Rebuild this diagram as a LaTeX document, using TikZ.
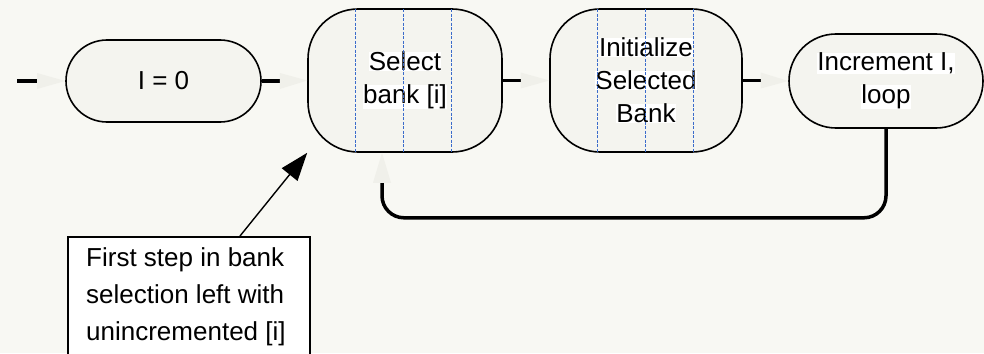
\documentclass[tikz,border=0pt]{standalone}
\usepackage{fontspec}
\setmainfont{Liberation Sans}
\usetikzlibrary{arrows.meta,calc}
\definecolor{paper}{HTML}{F8F8F3}
\definecolor{boxfill}{HTML}{F4F4EF}
\definecolor{ghost}{HTML}{F0F0EA}
\definecolor{gridblue}{HTML}{3A6BCB}
% white band behind each line of a box label
\newcommand\wb[1]{{\setlength\fboxsep{0pt}\colorbox{white}{#1}}}
\begin{document}
\begin{tikzpicture}[x=1pt,y=-1pt,
  every node/.style={font=\fontsize{26}{33}\selectfont},
  flowbox/.style={draw=black, line width=1.6pt, fill=boxfill, align=center, inner sep=0pt},
  stub/.style={line width=3.5pt},
  loopline/.style={line width=3.5pt, rounded corners=22pt},
  lane/.style={gridblue, line width=1.3pt, dash pattern=on 3pt off 1.5pt}
]
\useasboundingbox (0,0) rectangle (984,353);
\clip (0,0) rectangle (984,353);
\fill[paper] (0,0) rectangle (984,353);

% process boxes
\node[flowbox, minimum width=195pt, minimum height=82pt, rounded corners=41pt] (n0) at (163.5,81) {I = 0};
\node[flowbox, minimum width=194pt, minimum height=143pt, rounded corners=50pt] (n1) at (405,80.5) {\wb{Select}\\\wb{bank [i]}};
\node[flowbox, minimum width=192pt, minimum height=143pt, rounded corners=50pt] (n2) at (646,80.5) {\wb{Initialize}\\\wb{Selected}\\\wb{Bank}};
\node[flowbox, minimum width=194pt, minimum height=94pt, rounded corners=47pt] (n3) at (886,81) {\wb{Increment I,}\\\wb{loop}};

% swim-lane guides inside the two wide boxes
\foreach \k in {48,96,144} {
  \draw[lane] ([xshift=\k pt, yshift=-1pt]n1.north west) -- ([xshift=\k pt, yshift=1pt]n1.south west);
  \draw[lane] ([xshift=\k pt, yshift=-1pt]n2.north west) -- ([xshift=\k pt, yshift=1pt]n2.south west);
}

% flow connectors: black stub, pale arrowhead
\coordinate (start) at (17,81);
\draw[stub] (start) -- ++(20,0) coordinate (e00);
\fill[ghost] ($(e00)+(0,-8)$) -- (n0.west) -- ($(e00)+(0,8)$) -- cycle;
\draw[stub] (n0.east) -- ++(18,0) coordinate (e01);
\fill[ghost] ($(e01)+(0,-8)$) -- (n1.west) -- ($(e01)+(0,8)$) -- cycle;
\draw[stub] (n1.east) -- ++(18,0) coordinate (e12);
\fill[ghost] ($(e12)+(0,-8)$) -- (n2.west) -- ($(e12)+(0,8)$) -- cycle;
\draw[stub] (n2.east) -- ++(18,0) coordinate (e23);
\fill[ghost] ($(e23)+(0,-8)$) -- (n3.west) -- ($(e23)+(0,8)$) -- cycle;
\draw[stub] (n3.east) -- ++(18,0);

% loop back to the bank selection
\coordinate (back) at ($(n1.south)+(-23,30)$);
\draw[loopline] (n3.south) |- ($(back)+(0,35)$) -- (back);
\fill[ghost] ($(back)+(-9,0)$) -- ($(n1.south)+(-23,0)$) -- ($(back)+(9,0)$) -- cycle;

% annotation
\node[draw, line width=1.6pt, fill=white, minimum width=242pt, minimum height=140pt,
      anchor=north west, inner sep=0pt] (note) at (67,236) {};
\node[anchor=north west, align=left, font=\fontsize{26}{37}\selectfont, inner sep=0pt]
      (notetext) at (86,247) {First step in bank\\selection left with\\unincremented [i]};
\draw[line width=1.4pt, -{Triangle[length=28pt,width=20pt]}]
      ([xshift=173pt]note.north west) -- (n1.south west);
\end{tikzpicture}
\end{document}
